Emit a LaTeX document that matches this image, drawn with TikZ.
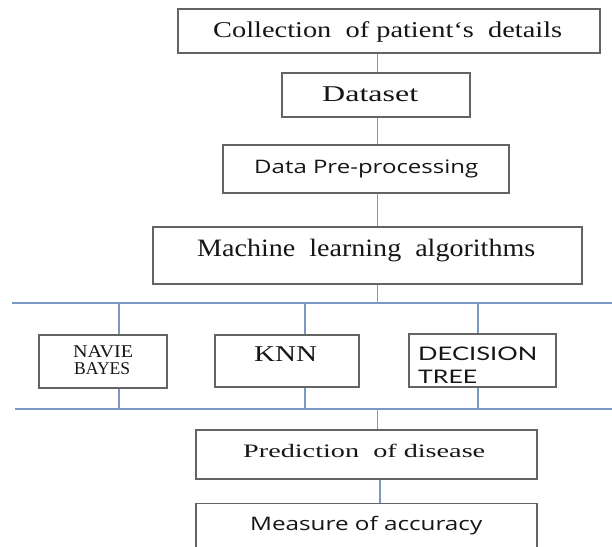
\documentclass[tikz,border=0pt]{standalone}
\usepackage{fontspec}
\usepackage{graphicx}
\setmainfont{Liberation Serif}
\newfontfamily\plainsans{Open Sans}
\newfontfamily\capsans{Lato}

% stretch a label horizontally to a given width, keeping its height
\newcommand\fitw[2]{\resizebox{#1}{\height}{#2}}

\definecolor{boxline}{RGB}{100,100,100}
\definecolor{busline}{RGB}{122,152,192}
\definecolor{ink}{RGB}{22,22,22}

\begin{document}
\begin{tikzpicture}[x=1pt,y=-1pt,
  stage/.style={draw=boxline, line width=1.2pt, fill=white, inner sep=0pt},
  lbl/.style={inner sep=0pt, text=ink, anchor=base west},
  capslbl/.style={lbl, text height=12pt, text depth=0pt},
  link/.style={draw=busline, line width=1.3pt}]

\useasboundingbox (0,0) rectangle (612,546);
\clip (0,0) rectangle (612,546);

% ---- stage boxes ----
\node[stage, minimum width=422pt, minimum height=44pt] (coll) at (389,31) {};
\node[stage, minimum width=188pt, minimum height=44pt] (data) at (376,95) {};
\node[stage, minimum width=286pt, minimum height=48pt] (pre)  at (366,169) {};
\node[stage, minimum width=429pt, minimum height=57pt] (ml)   at (367.5,255.5) {};
\node[stage, minimum width=128pt, minimum height=53pt] (nb)   at (103,361.5) {};
\node[stage, minimum width=144pt, minimum height=52pt] (knn)  at (287,361) {};
\node[stage, minimum width=147pt, minimum height=53pt] (dt)   at (482.5,360.5) {};
\node[stage, minimum width=341pt, minimum height=49pt] (pred) at (366.5,454.5) {};
\node[stage, minimum width=341pt, minimum height=70pt, anchor=north] (meas) at (366.5,503) {};

% ---- labels ----
\node[lbl, font=\fontsize{22.6}{27}\selectfont] (coll-t) at (213,37)
  {\fitw{349pt}{Collection\ \ of patient`s\ \ details}};
\node[lbl, font=\fontsize{22.6}{27}\selectfont] (data-t) at (322,101)
  {\fitw{96pt}{Dataset}};
\node[lbl, font=\plainsans\fontsize{18.6}{22}\selectfont] (pre-t) at (254,173.3)
  {\fitw{224pt}{Data Pre-processing}};
\node[lbl, font=\fontsize{25}{30}\selectfont] (ml-t) at (197,256.7)
  {\fitw{338pt}{Machine\ \ learning\ \ algorithms}};
\node[capslbl, font=\fontsize{18}{22}\selectfont] (nb-t1) at (73,357.3)
  {\fitw{60pt}{NAVIE}};
\node[capslbl, font=\fontsize{18}{22}\selectfont] (nb-t2) at (74,374)
  {\fitw{56pt}{BAYES}};
\node[lbl, font=\fontsize{22.6}{27}\selectfont] (knn-t) at (254,361.7)
  {\fitw{63pt}{KNN}};
\node[capslbl, font=\capsans\fontsize{18.7}{22}\selectfont] (dt-t1) at (418,360)
  {\fitw{119pt}{DECISION}};
\node[capslbl, font=\capsans\fontsize{18.7}{22}\selectfont] (dt-t2) at (418,383.3)
  {\fitw{59pt}{TREE}};
\node[lbl, font=\fontsize{19}{23}\selectfont] (pred-t) at (243,457.3)
  {\fitw{242pt}{Prediction\ \ of disease}};
\node[lbl, font=\plainsans\fontsize{18.6}{22}\selectfont] (meas-t) at (250,530)
  {\fitw{232pt}{Measure of accuracy}};

% ---- connector positions ----
\coordinate (spine)  at (377.5,0);
\coordinate (spine2) at (380,0);
\coordinate (bus1L) at (12,303);
\coordinate (bus1R) at (612,303);
\coordinate (bus2L) at (15,409);
\coordinate (bus2R) at (612,409);
\coordinate (br-nb)  at (119,0);
\coordinate (br-knn) at (305,0);
\coordinate (br-dt)  at (478,0);

% ---- main chain ----
\draw[link] (coll.south -| spine) -- (data.north -| spine);
\draw[link] (data.south -| spine) -- (pre.north -| spine);
\draw[link] (pre.south -| spine) -- (ml.north -| spine);
\draw[link] (ml.south -| spine) -- (spine |- bus1L);

% ---- upper bus and branches ----
\draw[link] (bus1L) -- (bus1R);
\draw[link] (br-nb |- bus1L) -- (br-nb |- nb.north);
\draw[link] (br-knn |- bus1L) -- (br-knn |- knn.north);
\draw[link] (br-dt |- bus1L) -- (br-dt |- dt.north);

% ---- lower bus ----
\draw[link] (br-nb |- nb.south) -- (br-nb |- bus2L);
\draw[link] (br-knn |- knn.south) -- (br-knn |- bus2L);
\draw[link] (br-dt |- dt.south) -- (br-dt |- bus2L);
\draw[link] (bus2L) -- (bus2R);

% ---- tail ----
\draw[link] (spine |- bus2L) -- (spine |- pred.north);
\draw[link] (pred.south -| spine2) -- (meas.north -| spine2);

\end{tikzpicture}
\end{document}
